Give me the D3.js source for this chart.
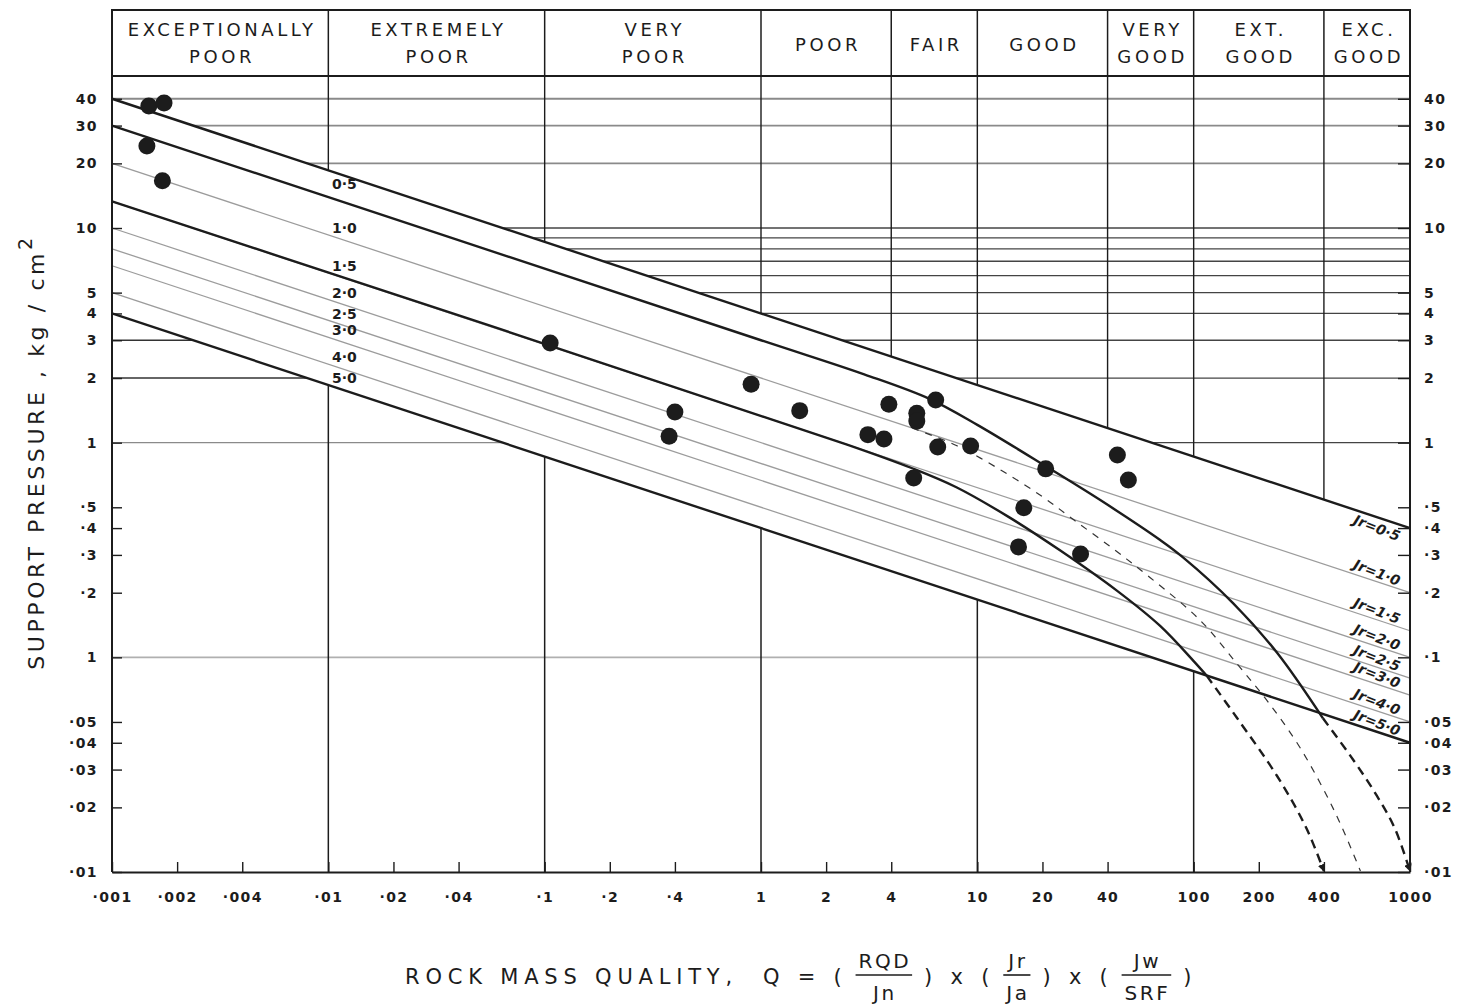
<!DOCTYPE html>
<html>
<head>
<meta charset="utf-8">
<script src="https://cdn.jsdelivr.net/npm/d3@7"></script>
<style>
  body { margin: 0; background: #fff; }
  svg { display: block; }
</style>
</head>
<body>
<div id="viz"></div>
<script>
// header classes and their Q boundaries
const classNames = [['EXCEPTIONALLY', 'POOR'], ['EXTREMELY', 'POOR'], ['VERY', 'POOR'], ['POOR'], ['FAIR'],
  ['GOOD'], ['VERY', 'GOOD'], ['EXT.', 'GOOD'], ['EXC.', 'GOOD']];
const classBounds = [0.001, 0.01, 0.1, 1, 4, 10, 40, 100, 400, 1000];

// axis ticks
const xTicks = [0.001, 0.002, 0.004, 0.01, 0.02, 0.04, 0.1, 0.2, 0.4, 1, 2, 4, 10, 20, 40, 100, 200, 400, 1000];
const xTickLabels = ['·001', '·002', '·004', '·01', '·02', '·04', '·1', '·2', '·4', '1', '2', '4', '10', '20', '40', '100', '200', '400', '1000'];
const yTicks = [40, 30, 20, 10, 5, 4, 3, 2, 1, 0.5, 0.4, 0.3, 0.2, 0.1, 0.05, 0.04, 0.03, 0.02, 0.01];
const yTickLabelsLeft = ['40', '30', '20', '10', '5', '4', '3', '2', '1', '·5', '·4', '·3', '·2', '1', '·05', '·04', '·03', '·02', '·01'];
const yTickLabelsRight = ['40', '30', '20', '10', '5', '4', '3', '2', '1', '·5', '·4', '·3', '·2', '·1', '·05', '·04', '·03', '·02', '·01'];

// grid lines (hidden inside the Jr band)
const hGridAbove = [40, 30, 20, 10, 9, 8, 7, 6, 5, 4, 3, 2, 1];
const hGridBelow = [3, 2, 1, 0.1];
const vGridAbove = [0.01, 0.1, 1, 4, 10, 40, 100, 400];
const vGridBelow = [0.01, 0.1, 1, 10, 100];

// Jr lines: support pressure at Q = 0.001 and Q = 1000
const jrLabels = ['0·5', '1·0', '1·5', '2·0', '2·5', '3·0', '4·0', '5·0'];
const jrP001 = [40, 20, 13.3, 10, 8, 6.67, 5, 4];
const jrP1000 = [0.4, 0.2, 0.133, 0.1, 0.08, 0.0667, 0.05, 0.04];

// curves bending down at high Q
const curveA = [[0.001, 30], [1, 3], [3, 2.08], [6, 1.6], [10, 1.21], [21, 0.77], [37, 0.54], [70, 0.352],
  [89, 0.293], [152, 0.179], [243, 0.105], [396, 0.052]];
const curveADash = [[396, 0.052], [550, 0.033], [700, 0.0228], [850, 0.016], [1000, 0.0101]];
const curveB = [[0.001, 13.3], [2.5, 0.98], [5, 0.76], [8, 0.62], [14, 0.45], [24, 0.316], [44, 0.205],
  [70, 0.14], [100, 0.096], [115, 0.082]];
const curveBDash = [[115, 0.082], [159, 0.052], [243, 0.028], [330, 0.0162], [400, 0.0101]];
const curveC = [[5, 1.17], [8, 0.97], [13, 0.74], [20, 0.56], [28, 0.436], [42.5, 0.32], [63, 0.235],
  [107, 0.149], [159, 0.093], [218, 0.063], [310, 0.038], [450, 0.019], [590, 0.0101]];

// case records
const qValues = [0.00148, 0.00174, 0.00145, 0.00171, 0.106, 0.90, 0.40, 0.376, 1.51, 3.90, 6.42, 5.25, 5.25,
  3.12, 3.70, 6.56, 9.31, 5.08, 20.7, 44.4, 49.9, 16.4, 15.5, 30.0];
const pValues = [37, 38.2, 24.1, 16.6, 2.91, 1.87, 1.39, 1.07, 1.41, 1.51, 1.58, 1.37, 1.26,
  1.09, 1.04, 0.955, 0.966, 0.685, 0.755, 0.877, 0.67, 0.497, 0.327, 0.303];


const width = 1460;
const height = 1007;
const headerTop = 10;
const plotTop = 76;

const x = d3.scaleLog().domain([0.001, 1000]).range([112, 1410]);
const y = d3.scaleLog().domain([0.01, 10]).range([872, 228]);
const xL = x(0.001), xR = x(1000), plotBottom = y(0.01);

const FONT = '"DejaVu Sans", sans-serif';
const INK = '#1c1c1c';

const svg = d3.select('#viz').append('svg')
  .attr('width', width)
  .attr('height', height)
  .attr('viewBox', `0 0 ${width} ${height}`);

const line = d3.line().x(d => x(d[0])).y(d => y(d[1]));
const smooth = d3.line().x(d => x(d[0])).y(d => y(d[1])).curve(d3.curveCatmullRom.alpha(0.5));

// band between Jr=0.5 and Jr=5.0 masks the grid
const defs = svg.append('defs');
defs.append('clipPath').attr('id', 'above').append('path')
  .attr('d', `M${xL},${plotTop}L${xR},${plotTop}L${xR},${y(jrP1000[0])}L${xL},${y(jrP001[0])}Z`);
defs.append('clipPath').attr('id', 'below').append('path')
  .attr('d', `M${xL},${y(jrP001[7])}L${xR},${y(jrP1000[7])}L${xR},${plotBottom}L${xL},${plotBottom}Z`);
defs.append('marker')
  .attr('id', 'arrow')
  .attr('viewBox', '0 0 10 10')
  .attr('refX', 9).attr('refY', 5)
  .attr('markerWidth', 3.2).attr('markerHeight', 3.2)
  .attr('markerUnits', 'strokeWidth')
  .attr('orient', 'auto')
  .append('path').attr('d', 'M0,0L10,5L0,10Z').attr('fill', INK);

// grid
const gAbove = svg.append('g').attr('clip-path', 'url(#above)');
gAbove.selectAll('line.h')
  .data(hGridAbove)
  .join('line')
  .attr('x1', xL).attr('x2', xR)
  .attr('y1', d => y(d)).attr('y2', d => y(d))
  .attr('stroke', d => d >= 20 ? '#8a8a8a' : '#444')
  .attr('stroke-width', d => d >= 20 ? 1.8 : 1.3);
gAbove.selectAll('line.v')
  .data(vGridAbove)
  .join('line')
  .attr('x1', d => x(d)).attr('x2', d => x(d))
  .attr('y1', plotTop).attr('y2', plotBottom)
  .attr('stroke', INK).attr('stroke-width', 1.4);

const gBelow = svg.append('g').attr('clip-path', 'url(#below)');
gBelow.selectAll('line.h')
  .data(hGridBelow)
  .join('line')
  .attr('x1', xL).attr('x2', xR)
  .attr('y1', d => y(d)).attr('y2', d => y(d))
  .attr('stroke', d => d === 0.1 ? '#b0b0b0' : (d === 1 ? '#8a8a8a' : '#333'))
  .attr('stroke-width', d => d === 0.1 ? 1.6 : 1.4);
gBelow.selectAll('line.v')
  .data(vGridBelow)
  .join('line')
  .attr('x1', d => x(d)).attr('x2', d => x(d))
  .attr('y1', plotTop).attr('y2', plotBottom)
  .attr('stroke', INK).attr('stroke-width', 1.5);

// header
const header = svg.append('g');
header.append('rect')
  .attr('x', xL).attr('y', headerTop)
  .attr('width', xR - xL).attr('height', plotTop - headerTop)
  .attr('fill', 'none').attr('stroke', INK).attr('stroke-width', 2);
header.selectAll('line')
  .data(classBounds.slice(1, -1))
  .join('line')
  .attr('x1', d => x(d)).attr('x2', d => x(d))
  .attr('y1', headerTop).attr('y2', plotTop)
  .attr('stroke', INK).attr('stroke-width', 1.5);
header.selectAll('text')
  .data(classNames)
  .join('text')
  .attr('font-family', FONT)
  .attr('font-size', 18)
  .attr('letter-spacing', 3.6)
  .attr('fill', INK)
  .attr('text-anchor', 'middle')
  .each(function (d, i) {
    const cx = (x(classBounds[i]) + x(classBounds[i + 1])) / 2 + 2;
    const t = d3.select(this);
    if (d.length === 1) {
      t.append('tspan').attr('x', cx).attr('y', 51).text(d[0]);
    } else {
      t.append('tspan').attr('x', cx).attr('y', 36).text(d[0]);
      t.append('tspan').attr('x', cx).attr('y', 63).text(d[1]);
    }
  });

// Jr lines
const jrG = svg.append('g');
jrG.selectAll('path')
  .data(jrLabels)
  .join('path')
  .attr('d', (d, i) => line([[0.001, jrP001[i]], [1000, jrP1000[i]]]))
  .attr('fill', 'none')
  .attr('stroke', (d, i) => (i === 0 || i === 7) ? INK : '#9c9c9c')
  .attr('stroke-width', (d, i) => (i === 0 || i === 7) ? 2.4 : 1.3);

// curves
svg.append('path').attr('d', smooth(curveA))
  .attr('fill', 'none').attr('stroke', INK).attr('stroke-width', 2.4);
svg.append('path').attr('d', smooth(curveB))
  .attr('fill', 'none').attr('stroke', INK).attr('stroke-width', 2.4);
svg.append('path').attr('d', smooth(curveADash))
  .attr('fill', 'none').attr('stroke', INK).attr('stroke-width', 2.4)
  .attr('stroke-dasharray', '9,6').attr('marker-end', 'url(#arrow)');
svg.append('path').attr('d', smooth(curveBDash))
  .attr('fill', 'none').attr('stroke', INK).attr('stroke-width', 2.4)
  .attr('stroke-dasharray', '9,6').attr('marker-end', 'url(#arrow)');
svg.append('path').attr('d', smooth(curveC))
  .attr('fill', 'none').attr('stroke', '#333').attr('stroke-width', 1.2)
  .attr('stroke-dasharray', '7,7');

// Jr labels, left (plain numbers) and right (rotated)
const yAt = (i, px) => y(jrP001[i]) + (y(jrP1000[i]) - y(jrP001[i])) * (px - xL) / (xR - xL);
const angle = Math.atan2(y(jrP1000[0]) - y(jrP001[0]), xR - xL) * 180 / Math.PI;

const leftX = x(0.0104);
svg.append('g').selectAll('text')
  .data(jrLabels)
  .join('text')
  .attr('x', leftX)
  .attr('y', (d, i) => yAt(i, leftX + 12) + (i === 0 ? 13 : -7))
  .attr('font-family', FONT).attr('font-size', 14).attr('font-weight', 'bold')
  .attr('fill', INK)
  .text(d => d);

const rightX = x(690);
svg.append('g').selectAll('text')
  .data(jrLabels)
  .join('text')
  .attr('transform', (d, i) => `translate(${rightX},${yAt(i, rightX) + (i === 0 ? 16 : -4)}) rotate(${angle + 3})`)
  .attr('text-anchor', 'middle')
  .attr('font-family', FONT).attr('font-size', 14).attr('font-weight', 'bold')
  .attr('font-style', 'italic')
  .attr('fill', INK)
  .text(d => `Jr=${d}`);

// case records
svg.append('g').selectAll('circle')
  .data(qValues)
  .join('circle')
  .attr('cx', d => x(d))
  .attr('cy', (d, i) => y(pValues[i]))
  .attr('r', 8.5)
  .attr('fill', INK);

// axes
const styleAxis = g => {
  g.selectAll('.domain').attr('stroke', INK).attr('stroke-width', 2);
  g.selectAll('.tick line').attr('stroke', INK).attr('stroke-width', 1.4);
  g.selectAll('.tick text').attr('font-family', FONT).attr('font-size', 14)
    .attr('font-weight', 'bold').attr('letter-spacing', 1.4).attr('fill', INK);
};

svg.append('g')
  .attr('transform', `translate(0,${plotBottom})`)
  .call(d3.axisBottom(x).tickValues(xTicks).tickFormat((d, i) => xTickLabels[i])
    .tickSizeInner(-10).tickSizeOuter(0).tickPadding(20))
  .call(styleAxis);

svg.append('g')
  .attr('transform', `translate(${xL},0)`)
  .call(d3.axisLeft(y).tickValues(yTicks).tickFormat((d, i) => yTickLabelsLeft[i])
    .tickSizeInner(-10).tickSizeOuter(0).tickPadding(14))
  .call(styleAxis)
  .call(g => g.select('.domain').attr('d', `M0,${plotTop}V${plotBottom}`));

svg.append('g')
  .attr('transform', `translate(${xR},0)`)
  .call(d3.axisRight(y).tickValues(yTicks).tickFormat((d, i) => yTickLabelsRight[i])
    .tickSizeInner(-12).tickSizeOuter(0).tickPadding(14))
  .call(styleAxis)
  .call(g => g.select('.domain').attr('d', `M0,${plotTop}V${plotBottom}`));

// y title
const yTitle = svg.append('text')
  .attr('transform', 'translate(44,452) rotate(-90)')
  .attr('text-anchor', 'middle')
  .attr('font-family', FONT).attr('font-size', 22)
  .attr('letter-spacing', 3.6)
  .attr('fill', INK);
yTitle.append('tspan').text('SUPPORT PRESSURE ,  kg / cm');
yTitle.append('tspan').attr('dy', -12).attr('font-size', 19).text('2');

// x title with fractions
const xTitle = svg.append('g')
  .attr('font-family', FONT).attr('font-size', 21)
  .attr('letter-spacing', 5.8).attr('fill', INK);
let cursor = 405;
const baseY = 984;
const pieces = [
  { t: 'ROCK MASS QUALITY,  Q = (' },
  { n: 'RQD', d: 'Jn' },
  { t: ') x (' },
  { n: 'Jr', d: 'Ja' },
  { t: ') x (' },
  { n: 'Jw', d: 'SRF' },
  { t: ')' }
];
pieces.forEach(p => {
  if (p.t) {
    const el = xTitle.append('text').attr('x', cursor).attr('y', baseY)
      .attr('xml:space', 'preserve').style('white-space', 'pre').text(p.t);
    cursor += el.node().getComputedTextLength() + 8;
  } else {
    const num = xTitle.append('text').attr('y', baseY - 16).attr('text-anchor', 'middle')
      .attr('font-size', 20).attr('letter-spacing', 2.5).text(p.n);
    const den = xTitle.append('text').attr('y', baseY + 16).attr('text-anchor', 'middle')
      .attr('font-size', 20).attr('letter-spacing', 2.5).text(p.d);
    const w = Math.max(num.node().getComputedTextLength(), den.node().getComputedTextLength()) + 4;
    const cx = cursor + w / 2;
    num.attr('x', cx + 1);
    den.attr('x', cx + 1);
    xTitle.append('line')
      .attr('x1', cursor).attr('x2', cursor + w)
      .attr('y1', baseY - 9).attr('y2', baseY - 9)
      .attr('stroke', INK).attr('stroke-width', 1.6);
    cursor += w + 12;
  }
});
</script>
</body>
</html>
